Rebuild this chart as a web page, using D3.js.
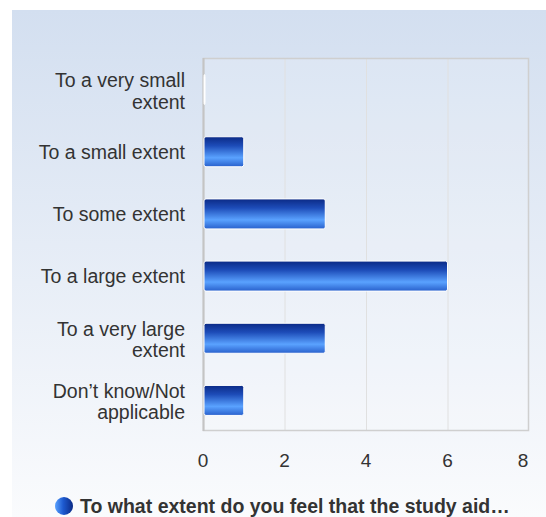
<!DOCTYPE html>
<html>
<head>
<meta charset="utf-8">
<script src="https://cdn.jsdelivr.net/npm/d3@7"></script>
<style>
html,body{margin:0;padding:0;background:#fff;}
svg{display:block;font-family:"Liberation Sans",Arial,sans-serif;}
</style>
</head>
<body>
<div id="chart"></div>
<script>
const categories = [
  ["To a very small", "extent"],
  ["To a small extent"],
  ["To some extent"],
  ["To a large extent"],
  ["To a very large", "extent"],
  ["Don\u2019t know/Not", "applicable"]
];
const values = [0, 1, 3, 6, 3, 1];
const xTicks = [0, 2, 4, 6, 8];
const seriesName = "To what extent do you feel that the study aid\u2026";

const W = 546, H = 517;
const svg = d3.select("#chart").append("svg").attr("width", W).attr("height", H);
const defs = svg.append("defs");

const bg = defs.append("linearGradient").attr("id","bg").attr("x1",0).attr("y1",0).attr("x2",0).attr("y2",1);
bg.append("stop").attr("offset","0%").attr("stop-color","#d3dff0");
bg.append("stop").attr("offset","100%").attr("stop-color","#fafbfd");

const bar = defs.append("linearGradient").attr("id","bar").attr("x1",0).attr("y1",0).attr("x2",0).attr("y2",1);
[["0%","#0b2a86"],["30%","#1d4cb8"],["70%","#5aa2ff"],["100%","#2860cc"]].forEach(s=>bar.append("stop").attr("offset",s[0]).attr("stop-color",s[1]));

const leg = defs.append("linearGradient").attr("id","leg").attr("x1",0).attr("y1",0).attr("x2",1).attr("y2",0);
[["0%","#5aa2ff"],["45%","#1d5ad0"],["100%","#0b2a86"]].forEach(s=>leg.append("stop").attr("offset",s[0]).attr("stop-color",s[1]));

svg.append("rect").attr("x",12).attr("y",10).attr("width",W-12).attr("height",H-10).attr("fill","url(#bg)");

const m = {left:203, right:529, top:58, bottom:431};
const x = d3.scaleLinear().domain([0,8]).range([m.left, m.right]);
const y = d3.scaleBand().domain(d3.range(categories.length)).range([m.top, m.bottom]).paddingInner(0).paddingOuter(0);

svg.append("rect").attr("x",m.left).attr("y",m.top).attr("width",m.right-m.left).attr("height",m.bottom-m.top)
  .attr("fill","#ffffff").attr("fill-opacity",0.15);

svg.append("g").selectAll("line").data(xTicks.slice(1,-1)).join("line")
  .attr("x1",d=>x(d)+0.5).attr("x2",d=>x(d)+0.5).attr("y1",m.top).attr("y2",m.bottom)
  .attr("stroke","#e0e0e0").attr("stroke-width",1);

svg.append("rect").attr("x",m.left+0.5).attr("y",m.top+0.5).attr("width",m.right-m.left-1).attr("height",m.bottom-m.top-1)
  .attr("fill","none").attr("stroke","#cfcfcf").attr("stroke-width",1.5);

svg.append("line").attr("x1",m.left+0.5).attr("x2",m.left+0.5).attr("y1",m.top).attr("y2",m.bottom)
  .attr("stroke","#c4c4c4").attr("stroke-width",2);

const bh = 30;
svg.append("g").selectAll("rect").data(values).join("rect")
  .attr("x", x(0)+1)
  .attr("y",(d,i)=>y(i)+y.bandwidth()/2-bh/2+0.5)
  .attr("width",d=>Math.max(x(d)-x(0)-1,1))
  .attr("height",bh)
  .attr("rx",2)
  .attr("fill",d=>d>0?"url(#bar)":"#ffffff")
  .attr("stroke","#ffffff").attr("stroke-width",1);

const cl = svg.append("g").selectAll("text").data(categories).join("text")
  .attr("text-anchor","end").attr("fill","#333").attr("font-size","19.5px")
  .attr("y",(d,i)=>y(i)+y.bandwidth()/2 + (d.length>1 ? -2 : 7.5));
cl.selectAll("tspan").data(d=>d).join("tspan")
  .attr("x",185).attr("dy",(d,i)=>i===0?0:21.5).text(d=>d);

svg.append("g").selectAll("text").data(xTicks).join("text")
  .attr("x",d=> d===8 ? x(d)-6 : x(d)).attr("y",467)
  .attr("text-anchor","middle").attr("fill","#333").attr("font-size","19px")
  .text(d=>d);

svg.append("circle").attr("cx",64).attr("cy",506).attr("r",9).attr("fill","url(#leg)");
svg.append("text").attr("x",80).attr("y",513).attr("font-size","19.5px").attr("font-weight","bold")
  .attr("fill","#333").text(seriesName);
</script>
</body>
</html>
